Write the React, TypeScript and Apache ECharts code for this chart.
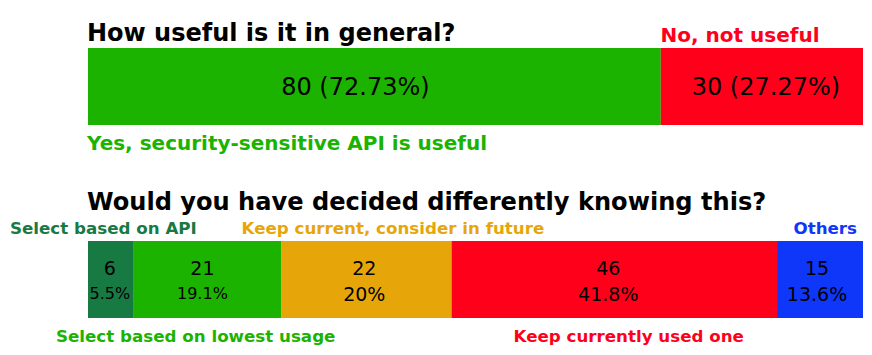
import React, { useEffect, useRef } from "react";
import * as echarts from "echarts";

// Titles
const chartTitles = ["How useful is it in general?", "Would you have decided differently knowing this?"];

// Question 1
const usefulNames = ["Yes, security-sensitive API is useful", "No, not useful"];
const usefulCounts = [80, 30];
// segment lengths as drawn in the reference (count units)
const usefulBarLengths = [81.3, 28.7];
const usefulColors = ["#1bb300", "#ff001b"];

// Question 2
const decisionNames = [
  "Select based on API",
  "Select based on lowest usage",
  "Keep current, consider in future",
  "Keep currently used one",
  "Others",
];
const decisionCounts = [6, 21, 22, 46, 15];
// segment lengths as drawn in the reference (count units)
const decisionBarLengths = [6.5, 20.9, 24.2, 46.2, 12.2];
const decisionColors = ["#187a43", "#1bb300", "#e6a60a", "#ff001b", "#0f37fa"];

const FONT = '"DejaVu Sans", sans-serif';

function pct1(v: number, total: number): string {
  const p = Math.round((v / total) * 1000) / 10;
  return (Number.isInteger(p) ? p.toFixed(0) : p.toFixed(1)) + "%";
}

export default function App() {
  const ref = useRef<HTMLDivElement>(null);

  useEffect(() => {
    document.body.style.margin = "0";
    if (!ref.current) return;
    const chart = echarts.init(ref.current, null, { renderer: "svg" });

    const usefulTotal = usefulCounts.reduce((a, b) => a + b, 0);
    const decisionTotal = decisionCounts.reduce((a, b) => a + b, 0);
    const usefulAxisMax = usefulBarLengths.reduce((a, b) => a + b, 0);
    const decisionAxisMax = decisionBarLengths.reduce((a, b) => a + b, 0);

    const usefulOffsets = [[-19, 0], [4, 0]];
    const decisionOffsets = [[-1, 1], [-5, 1], [-2, 1], [-6, 1], [-3, 1]];
    const pctSizes = [16, 16, 19, 19, 19];

    const series: any[] = [];
    usefulCounts.forEach((c, i) => {
      series.push({
        type: "bar",
        name: usefulNames[i],
        stack: "q1",
        xAxisIndex: 0,
        yAxisIndex: 0,
        barWidth: "100%",
        data: [usefulBarLengths[i]],
        itemStyle: { color: usefulColors[i] },
        label: {
          show: true,
          position: "inside",
          offset: usefulOffsets[i],
          formatter: () => `${c} (${((c / usefulTotal) * 100).toFixed(2)}%)`,
          color: "#000",
          fontSize: 24,
          fontFamily: FONT,
        },
      });
    });
    decisionCounts.forEach((c, i) => {
      series.push({
        type: "bar",
        name: decisionNames[i],
        stack: "q2",
        xAxisIndex: 1,
        yAxisIndex: 1,
        barWidth: "100%",
        data: [decisionBarLengths[i]],
        itemStyle: { color: decisionColors[i] },
        label: {
          show: true,
          position: "inside",
          offset: decisionOffsets[i],
          formatter: () => `{c|${c}}\n{p|${pct1(c, decisionTotal)}}`,
          rich: {
            c: { fontSize: 19, lineHeight: 26, color: "#000", fontFamily: FONT },
            p: { fontSize: pctSizes[i], lineHeight: 26, color: "#000", fontFamily: FONT },
          },
        },
      });
    });

    const txt = (text: string, x: number, y: number, size: number, color: string, bold = true) => ({
      type: "text",
      x,
      y,
      style: {
        text,
        fill: color,
        fontSize: size,
        fontWeight: bold ? "bold" : "normal",
        fontFamily: FONT,
        verticalAlign: "middle",
        align: "left",
      },
    });

    chart.setOption({
      animation: false,
      backgroundColor: "#ffffff",
      grid: [
        { left: 88, width: 775, top: 48, height: 77 },
        { left: 88, width: 775, top: 241, height: 77 },
      ],
      xAxis: [
        { type: "value", gridIndex: 0, min: 0, max: usefulAxisMax, show: false },
        { type: "value", gridIndex: 1, min: 0, max: decisionAxisMax, show: false },
      ],
      yAxis: [
        { type: "category", gridIndex: 0, data: ["q1"], show: false },
        { type: "category", gridIndex: 1, data: ["q2"], show: false },
      ],
      series,
      graphic: [
        txt(chartTitles[0], 87, 32.5, 24, "#000"),
        txt(usefulNames[1], 660.5, 34.5, 20, usefulColors[1]),
        txt(usefulNames[0], 87, 142.5, 20, usefulColors[0]),
        txt(chartTitles[1], 87, 201.5, 24.1, "#000"),
        txt(decisionNames[0], 10, 227.5, 16.7, decisionColors[0]),
        txt(decisionNames[2], 241.5, 227.5, 16.7, decisionColors[2]),
        txt(decisionNames[4], 793.5, 227.5, 16.7, decisionColors[4]),
        txt(decisionNames[1], 56, 336, 16.7, decisionColors[1]),
        txt(decisionNames[3], 513.5, 336, 16.7, decisionColors[3]),
      ],
    });

    return () => chart.dispose();
  }, []);

  return (
    <div
      ref={ref}
      style={{ width: 872, height: 355, position: "absolute", left: 0, top: 0 }}
    />
  );
}
